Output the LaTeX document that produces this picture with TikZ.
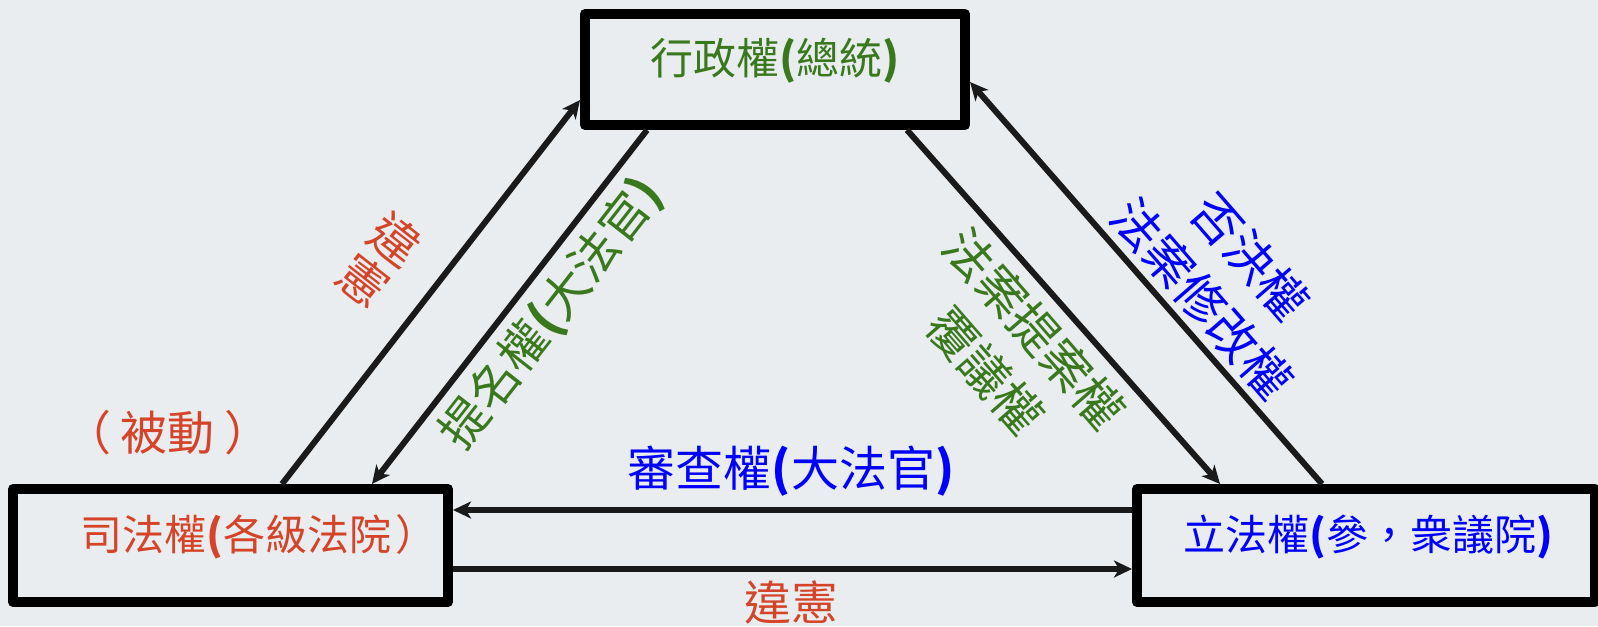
\documentclass[tikz,border=0pt]{standalone}
\usepackage{fontspec}
\newfontfamily\cjk{Noto Sans CJK TC}
\usetikzlibrary{arrows.meta,calc}
\definecolor{bgcol}{RGB}{233,237,239}
\definecolor{judred}{RGB}{213,68,40}
\definecolor{exgreen}{RGB}{58,120,30}
\definecolor{lgblue}{RGB}{0,0,255}
\definecolor{arrowcol}{RGB}{26,26,26}
\newcommand\lpar{{\bfseries(}}
\newcommand\rpar{{\bfseries)}}
\tikzset{
  branch/.style={draw=black, line width=5pt, line join=round, fill=bgcol, inner sep=0pt},
  power/.style={draw=arrowcol, line width=3pt, -{Stealth[length=9pt,width=8.5pt,inset=2.5pt]}},
  boxtext/.style={font=\cjk\fontsize{21}{25}\selectfont, inner sep=0pt},
  arrowtext/.style={font=\cjk\fontsize{24.5}{32}\selectfont, align=center, inner sep=0pt},
}
\begin{document}
\begin{tikzpicture}[x=0.5pt, y=-0.5pt]
    \useasboundingbox (0,0) rectangle (1598,626);
    \fill[bgcol] (0,0) rectangle (1598,626);

    % 三個機關
    \node[branch, minimum width=190pt, minimum height=55.5pt] (exec) at (775,69.5) {};
    \node[branch, minimum width=217.5pt, minimum height=56.5pt] (judic) at (230.5,545.5) {};
    \node[branch, minimum width=229pt, minimum height=56.5pt] (legis) at (1366,545.5) {};
    \node[boxtext, exgreen, font=\cjk\fontsize{21.5}{25}\selectfont] (exectxt) at (775,61) {行政權\lpar 總統\rpar};
    \node[boxtext, judred] (judictxt) at (259,537) {司法權\lpar 各級法院\kern2pt）};
    \node[boxtext, lgblue] (legistxt) at (1368,537) {立法權\lpar 參，衆議院\rpar};

    % 連線
    \draw[power] ($(judic.north west)+(274,0)$) -- ($(exec.north west)+(0,91)$);
    \draw[power] ($(exec.south west)+(67,0)$) -- ($(judic.north west)+(364,0)$);
    \draw[power] ($(exec.south west)+(327,0)$) -- ($(legis.north west)+(88,0)$);
    \draw[power] ($(legis.north west)+(190,0)$) -- ($(exec.north east)+(0,73)$);
    \draw[power] ($(legis.north west)+(0,26)$) -- ($(judic.north east)+(0,26)$);
    \draw[power] ($(judic.north east)+(0,85)$) -- ($(legis.north west)+(0,85)$);

    % 標籤
    \node[arrowtext, judred, rotate=-38, font=\cjk\fontsize{24.5}{26}\selectfont] (unconst) at (380,260) {違\\憲};
    \node[arrowtext, exgreen, rotate=52, font=\cjk\fontsize{24}{32}\selectfont] (nominate) at (552,314) {提名權\lpar 大法官\rpar};
    \node[arrowtext, exgreen, rotate=-49] (propose) at (1010,350) {法案提案權\\覆議權};
    \node[arrowtext, lgblue, rotate=-49] (veto) at (1226,278) {否決權\\法案修改權};
    \node[arrowtext, lgblue, font=\cjk\fontsize{24}{30}\selectfont] (review) at (791,471) {審查權\lpar 大法官\rpar};
    \node[arrowtext, judred, font=\cjk\fontsize{23.5}{30}\selectfont] (unconst2) at (791,602) {違憲};
    \node[arrowtext, judred, font=\cjk\fontsize{23.5}{30}\selectfont] (passive) at (168,433) {（\kern5pt 被動\kern5pt）};
\end{tikzpicture}
\end{document}
